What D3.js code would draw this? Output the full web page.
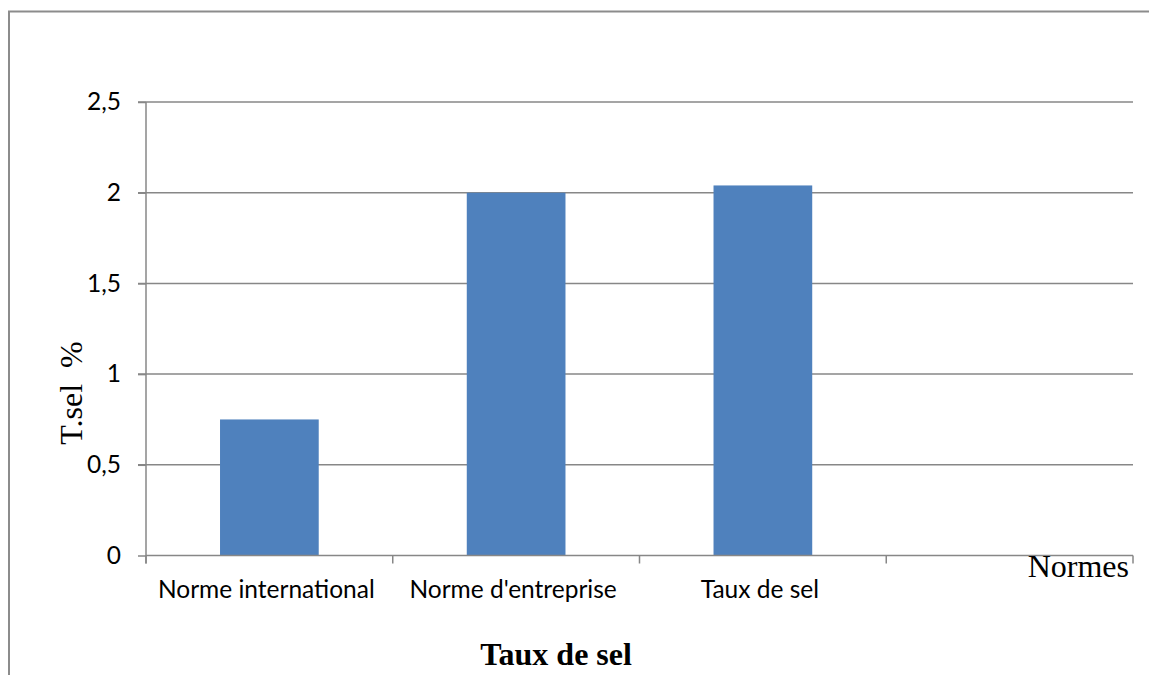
<!DOCTYPE html>
<html>
<head>
<meta charset="utf-8">
<script src="https://cdn.jsdelivr.net/npm/d3@7/dist/d3.min.js"></script>
<style>
  html, body { margin: 0; padding: 0; background: #fff; }
  svg { display: block; }
</style>
</head>
<body>
<svg id="chart" width="1149" height="675"></svg>
<script>
// Salt content compared with the standards
const categories = ["Norme international", "Norme d'entreprise", "Taux de sel", ""];
const values = [0.75, 2.0, 2.04, null];
const yTicks = [0, 0.5, 1, 1.5, 2, 2.5];
const yTickLabels = ["0", "0,5", "1", "1,5", "2", "2,5"];

const svg = d3.select("#chart");
const W = 1149, H = 675;
const plot = { left: 146, right: 1133, top: 102, bottom: 555.5 };
const axisColor = "#878787";
const barColor = "#4F81BD";
const sansFont = "Lato, 'Open Sans', sans-serif";
const serifFont = "'Liberation Serif', 'DejaVu Serif', serif";

// outer chart-area frame (runs off the right and bottom edges)
svg.append("rect")
  .attr("x", 9).attr("y", 11.5)
  .attr("width", W + 20).attr("height", H + 20)
  .attr("fill", "none")
  .attr("stroke", "#8c8c8c")
  .attr("stroke-width", 2);

const x = d3.scaleBand()
  .domain(categories)
  .range([plot.left, plot.right])
  .padding(0);

const y = d3.scaleLinear()
  .domain([0, 2.5])
  .range([plot.bottom, plot.top]);

// horizontal gridlines
svg.append("g")
  .selectAll("line")
  .data(yTicks.filter(t => t > 0))
  .join("line")
  .attr("x1", plot.left - 8).attr("x2", plot.right)
  .attr("y1", d => y(d)).attr("y2", d => y(d))
  .attr("stroke", axisColor)
  .attr("stroke-width", 1.5);

// y axis
const yAxis = d3.axisLeft(y)
  .tickValues(yTicks)
  .tickSize(8)
  .tickPadding(17)
  .tickFormat((d, i) => yTickLabels[i]);

const gy = svg.append("g")
  .attr("transform", `translate(${plot.left},0)`)
  .call(yAxis);
gy.select(".domain").remove();
gy.append("line")
  .attr("x1", 0).attr("x2", 0)
  .attr("y1", plot.top).attr("y2", plot.bottom + 8)
  .attr("stroke", axisColor).attr("stroke-width", 1.5);
gy.selectAll(".tick line").attr("stroke", axisColor).attr("stroke-width", 1.5);
gy.selectAll(".tick text")
  .attr("fill", "#000")
  .style("font-family", sansFont)
  .style("font-size", "24.5px");

// bars
svg.append("g")
  .selectAll("rect")
  .data(categories.map((c, i) => ({ c, v: values[i] })).filter(d => d.v != null))
  .join("rect")
  .attr("x", d => x(d.c) + x.bandwidth() * 0.3)
  .attr("width", x.bandwidth() * 0.4)
  .attr("y", d => y(d.v))
  .attr("height", d => y(0) - y(d.v))
  .attr("fill", barColor);

// x axis with ticks on band boundaries
const gx = svg.append("g").attr("transform", `translate(0,${plot.bottom})`);
gx.append("line")
  .attr("x1", plot.left).attr("x2", plot.right)
  .attr("stroke", axisColor).attr("stroke-width", 1.5);
const bounds = categories.map(c => x(c)).concat([plot.right]);
gx.selectAll("line.tick")
  .data(bounds)
  .join("line")
  .attr("class", "tick")
  .attr("x1", d => d).attr("x2", d => d)
  .attr("y1", 0).attr("y2", 8)
  .attr("stroke", axisColor).attr("stroke-width", 1.5);
gx.selectAll("text.cat")
  .data(categories)
  .join("text")
  .attr("class", "cat")
  .attr("x", d => x(d) + x.bandwidth() / 2 - 3)
  .attr("y", 42)
  .attr("text-anchor", "middle")
  .attr("fill", "#000")
  .style("font-family", sansFont)
  .style("font-size", "24.5px")
  .text(d => d);

// axis titles
svg.append("text")
  .attr("transform", "translate(82,393) rotate(-90)")
  .attr("text-anchor", "middle")
  .style("font-family", serifFont)
  .style("font-size", "32px")
  .style("white-space", "pre")
  .attr("xml:space", "preserve")
  .text("T.sel  %");

svg.append("text")
  .attr("x", 1129).attr("y", 577)
  .attr("text-anchor", "end")
  .style("font-family", serifFont)
  .style("font-size", "32px")
  .text("Normes");

svg.append("text")
  .attr("x", 556).attr("y", 665)
  .attr("text-anchor", "middle")
  .style("font-family", serifFont)
  .style("font-size", "32px")
  .style("font-weight", "bold")
  .text("Taux de sel");
</script>
</body>
</html>
